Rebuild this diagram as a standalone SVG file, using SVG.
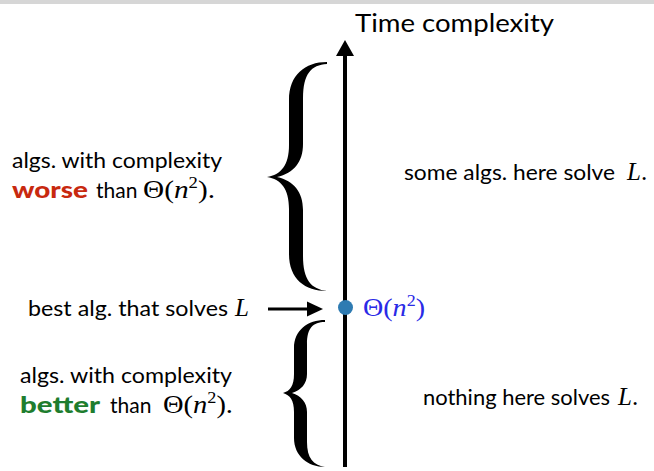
<svg xmlns="http://www.w3.org/2000/svg" width="654" height="471" viewBox="0 0 654 471">
<style>
.t{font-family:Lato,"Open Sans",sans-serif;font-size:22px;fill:#000}
.b{font-weight:900}
.red{fill:#c8290f}
.green{fill:#1e7d2e}
.m{font-family:"Liberation Serif","Times New Roman",serif;font-size:25px;fill:#000}
.blue{fill:#2a2ae6}
.i{font-style:italic}
.sup{font-size:16px}
.br{fill:#000}
</style>
<rect x="0" y="0" width="654" height="4" fill="#d6d6d6"/>
<g id="connectors">
<line x1="345" y1="467" x2="345" y2="54" stroke="#000" stroke-width="4"/>
<path d="M336,56 L345,40 L354,56 Z" fill="#000"/>
<line x1="268" y1="309" x2="310" y2="309" stroke="#000" stroke-width="3"/>
<path d="M307,301.5 L323,309 L307,316.5 Z" fill="#000"/>
</g>
<g id="axis-label"><text class="t" x="355" y="32" style="font-size:25px" textLength="199" lengthAdjust="spacingAndGlyphs">Time complexity</text></g>
<g id="brace-top">
<path class="br" d="M327,62 C305,62 289,75 289,100 L289,145 C289,165 281,175 267,177 C281,179 289,189 289,209 L289,254 C289,279 305,291 327,291 C311,289 303,280 303,256 L303,210 C303,192 294,181 277,177 C294,173 303,162 303,144 L303,98 C303,74 311,65 327,64 Z"/>
</g>
<g id="brace-bottom">
<path class="br" d="M325,320 C308,320 294,330 294,348 L294,374 C294,386 290,391 283,393 C290,395 294,400 294,412 L294,438 C294,456 308,467 325,467 C313,465 307,458 307,442 L307,412 C307,402 301,396 292,393 C301,390 307,384 307,374 L307,344 C307,328 313,322 325,322 Z"/>
</g>
<g id="dot"><circle cx="345.5" cy="307.5" r="7.5" fill="#2e7bb2"/>
<text class="m blue" x="363" y="316" textLength="62" lengthAdjust="spacingAndGlyphs">Θ(<tspan class="i">n</tspan><tspan class="sup" dy="-10">2</tspan><tspan dy="10">)</tspan></text></g>
<g id="worse-label">
<text class="t" x="12" y="168" textLength="210" lengthAdjust="spacingAndGlyphs">algs. with complexity</text>
<text class="t b red" x="12" y="198" textLength="76" lengthAdjust="spacingAndGlyphs">worse</text>
<text class="t" x="96" y="198" style="font-size:21px">than</text>
<text class="m" x="143" y="198" textLength="72" lengthAdjust="spacingAndGlyphs">Θ(<tspan class="i">n</tspan><tspan class="sup" dy="-10">2</tspan><tspan dy="10">).</tspan></text>
</g>
<g id="best-label">
<text class="t" x="28" y="316" textLength="200" lengthAdjust="spacingAndGlyphs">best alg. that solves</text>
<text class="m i" x="235" y="316">L</text>
</g>
<g id="better-label">
<text class="t" x="20" y="383" textLength="212" lengthAdjust="spacingAndGlyphs">algs. with complexity</text>
<text class="t b green" x="20" y="413" textLength="80" lengthAdjust="spacingAndGlyphs">better</text>
<text class="t" x="110" y="413" style="font-size:21px">than</text>
<text class="m" x="163" y="413" textLength="70" lengthAdjust="spacingAndGlyphs">Θ(<tspan class="i">n</tspan><tspan class="sup" dy="-10">2</tspan><tspan dy="10">).</tspan></text>
</g>
<g id="some-label">
<text class="t" x="404" y="180" textLength="211" lengthAdjust="spacingAndGlyphs">some algs. here solve</text>
<text class="m" x="627" y="180"><tspan class="i">L</tspan>.</text>
</g>
<g id="nothing-label">
<text class="t" x="423" y="405" textLength="187" lengthAdjust="spacingAndGlyphs">nothing here solves</text>
<text class="m" x="618" y="405"><tspan class="i">L</tspan>.</text>
</g>
</svg>
